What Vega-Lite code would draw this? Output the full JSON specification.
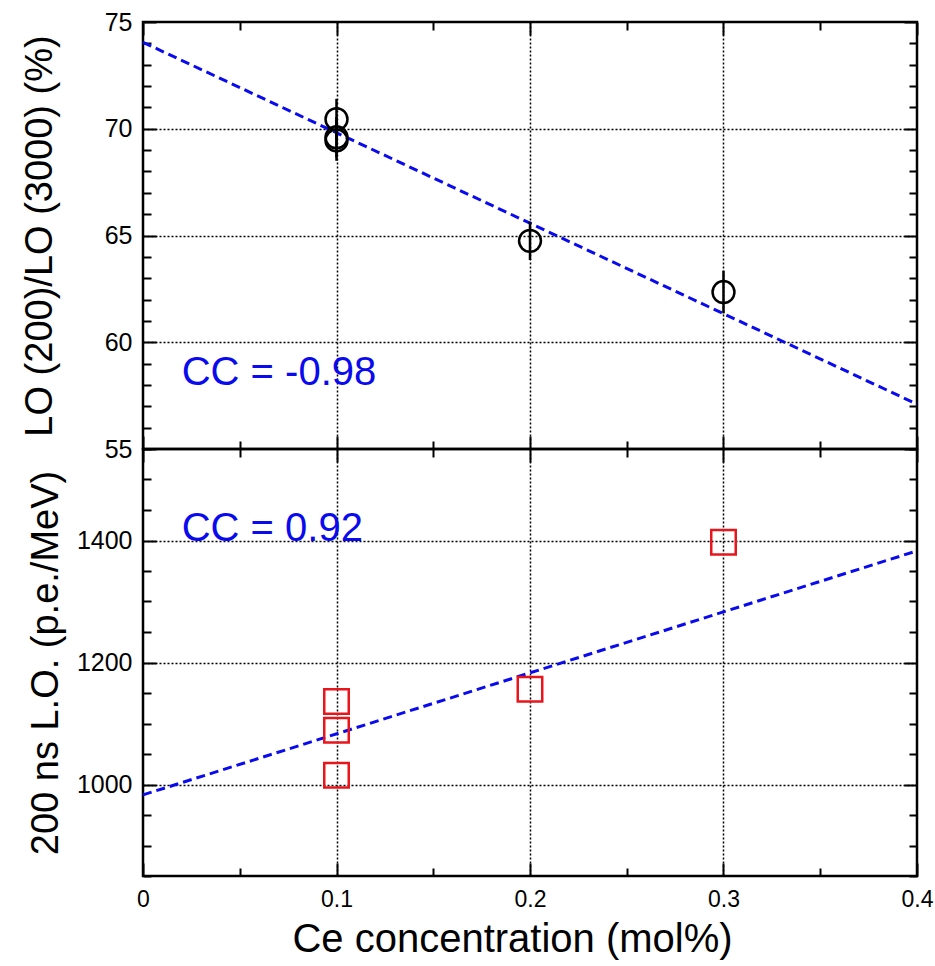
{
  "$schema": "https://vega.github.io/schema/vega-lite/v6.json",
  "padding": {"left": 19, "top": 8, "right": 0, "bottom": 0},
  "background": "white",
  "spacing": 0,
  "bounds": "flush",
  "config": {
    "font": "Liberation Sans",
    "view": {"stroke": "black", "strokeWidth": 2.5},
    "axis": {
      "domain": false,
      "labelFont": "Liberation Sans",
      "titleFont": "Liberation Sans",
      "labelColor": "black",
      "titleColor": "black",
      "tickColor": "black",
      "tickWidth": 2,
      "gridColor": "black",
      "gridDash": [2, 2],
      "gridWidth": 1.5,
      "titleFontWeight": "normal",
      "labelFlush": false,
      "labelOverlap": false
    },
    "axisX": {"labelFontSize": 23},
    "axisY": {"labelFontSize": 25}
  },
  "vconcat": [
    {
      "width": 774,
      "height": 427,
      "resolve": {"axis": {"x": "independent", "y": "independent"}},
      "layer": [
        {
          "data": {"values": [{"x": 0, "y": 74.05}, {"x": 0.4, "y": 57.1}]},
          "mark": {"type": "line", "color": "#0a0aee", "strokeWidth": 3, "strokeDash": [9, 5]},
          "encoding": {
            "x": {"field": "x", "type": "quantitative", "scale": {"domain": [0, 0.4], "nice": false, "zero": false},
              "axis": {"orient": "bottom", "values": [0, 0.05, 0.1, 0.15, 0.2, 0.25, 0.3, 0.35, 0.4], "labels": false, "title": null, "grid": false,
                "offset": -13, "tickSize": 13,
                "tickDash": {"condition": {"test": "indexof([0,0.1,0.2,0.3,0.4], datum.value) >= 0", "value": []}, "value": [0, 5, 8, 100]}}},
            "y": {"field": "y", "type": "quantitative", "scale": {"domain": [55, 75], "nice": false, "zero": false},
              "axis": {"orient": "left", "values": [55,56,57,58,59,60,61,62,63,64,65,66,67,68,69,70,71,72,73,74,75],
                "labelExpr": "datum.value % 5 === 0 ? datum.label : ''", "labelFontSize": 25, "labelPadding": 11,
                "title": "LO (200)/LO (3000) (%)", "titleFontSize": 38, "titlePadding": 45, "grid": false,
                "offset": -13, "tickSize": 13,
                "tickDash": {"condition": {"test": "datum.value % 5 === 0", "value": []}, "value": [0, 5, 8, 100]}}}
          }
        },
        {
          "data": {"values": [
            {"x": 0.1, "y": 70.45, "lo": 69.5, "hi": 71.4},
            {"x": 0.1, "y": 69.6, "lo": 68.65, "hi": 70.55},
            {"x": 0.1, "y": 69.45, "lo": 68.5, "hi": 70.4},
            {"x": 0.2, "y": 64.75, "lo": 63.85, "hi": 65.65},
            {"x": 0.3, "y": 62.35, "lo": 61.35, "hi": 63.35}
          ]},
          "mark": {"type": "rule", "color": "black", "strokeWidth": 2.5},
          "encoding": {
            "x": {"field": "x", "type": "quantitative", "scale": {"domain": [0, 0.4], "nice": false, "zero": false},
              "axis": {"orient": "top", "values": [0, 0.05, 0.1, 0.15, 0.2, 0.25, 0.3, 0.35, 0.4], "labels": false, "title": null, "grid": false,
                "offset": -13, "tickSize": 13,
                "tickDash": {"condition": {"test": "indexof([0,0.1,0.2,0.3,0.4], datum.value) >= 0", "value": []}, "value": [0, 5, 8, 100]}}},
            "y": {"field": "lo", "type": "quantitative", "scale": {"domain": [55, 75], "nice": false, "zero": false},
              "axis": {"orient": "right", "values": [55,56,57,58,59,60,61,62,63,64,65,66,67,68,69,70,71,72,73,74,75], "labels": false, "title": null, "grid": false,
                "offset": -13, "tickSize": 13,
                "tickDash": {"condition": {"test": "datum.value % 5 === 0", "value": []}, "value": [0, 5, 8, 100]}}},
            "y2": {"field": "hi"}
          }
        },
        {
          "data": {"values": [
            {"x": 0.1, "y": 70.45},
            {"x": 0.1, "y": 69.6},
            {"x": 0.1, "y": 69.45},
            {"x": 0.2, "y": 64.75},
            {"x": 0.3, "y": 62.35}
          ]},
          "mark": {"type": "point", "shape": "circle", "filled": false, "stroke": "black", "strokeWidth": 2.5, "size": 480, "opacity": 1},
          "encoding": {
            "x": {"field": "x", "type": "quantitative", "scale": {"domain": [0, 0.4], "nice": false, "zero": false},
              "axis": {"orient": "bottom", "values": [0.1, 0.2, 0.3], "labels": false, "ticks": false, "title": null, "grid": true}},
            "y": {"field": "y", "type": "quantitative", "scale": {"domain": [55, 75], "nice": false, "zero": false},
              "axis": {"orient": "left", "values": [60, 65, 70], "labels": false, "ticks": false, "title": null, "grid": true}}
          }
        },
        {
          "data": {"values": [{"x": 0.02, "y": 58, "label": "CC = -0.98"}]},
          "mark": {"type": "text", "align": "left", "baseline": "alphabetic", "fontSize": 40, "color": "#0a0aee", "font": "Liberation Sans"},
          "encoding": {
            "x": {"field": "x", "type": "quantitative", "scale": {"domain": [0, 0.4], "nice": false, "zero": false}, "axis": null},
            "y": {"field": "y", "type": "quantitative", "scale": {"domain": [55, 75], "nice": false, "zero": false}, "axis": null},
            "text": {"field": "label"}
          }
        }
      ]
    },
    {
      "width": 774,
      "height": 427,
      "resolve": {"axis": {"x": "independent", "y": "independent"}},
      "layer": [
        {
          "data": {"values": [{"x": 0, "y": 983}, {"x": 0.4, "y": 1383}]},
          "mark": {"type": "line", "color": "#0a0aee", "strokeWidth": 3, "strokeDash": [9, 5]},
          "encoding": {
            "x": {"field": "x", "type": "quantitative", "scale": {"domain": [0, 0.4], "nice": false, "zero": false},
              "axis": {"orient": "bottom", "values": [0, 0.05, 0.1, 0.15, 0.2, 0.25, 0.3, 0.35, 0.4], "format": "~g",
                "labelExpr": "indexof([0,0.1,0.2,0.3,0.4], datum.value) >= 0 ? datum.label : ''", "labelFontSize": 23, "labelPadding": 12,
                "title": "Ce concentration (mol%)", "titleFontSize": 40, "titlePadding": 8, "titleX": 369, "grid": false,
                "offset": -13, "tickSize": 13,
                "tickDash": {"condition": {"test": "indexof([0,0.1,0.2,0.3,0.4], datum.value) >= 0", "value": []}, "value": [0, 5, 8, 100]}}},
            "y": {"field": "y", "type": "quantitative", "scale": {"domain": [850, 1550], "nice": false, "zero": false},
              "axis": {"orient": "left", "values": [850,900,950,1000,1050,1100,1150,1200,1250,1300,1350,1400,1450,1500,1550], "format": "d",
                "labelExpr": "indexof([1000,1200,1400], datum.value) >= 0 ? datum.label : ''", "labelFontSize": 25, "labelPadding": 11,
                "title": "200 ns L.O. (p.e./MeV)", "titleFontSize": 38, "titlePadding": 11, "grid": false,
                "offset": -13, "tickSize": 13,
                "tickDash": {"condition": {"test": "indexof([1000,1200,1400], datum.value) >= 0", "value": []}, "value": [0, 5, 8, 100]}}}
          }
        },
        {
          "data": {"values": [
            {"x": 0.1, "y": 1136},
            {"x": 0.1, "y": 1089},
            {"x": 0.1, "y": 1015},
            {"x": 0.2, "y": 1156},
            {"x": 0.3, "y": 1397}
          ]},
          "mark": {"type": "point", "shape": "square", "filled": false, "stroke": "#e8161c", "strokeWidth": 2.5, "size": 600, "opacity": 1},
          "encoding": {
            "x": {"field": "x", "type": "quantitative", "scale": {"domain": [0, 0.4], "nice": false, "zero": false},
              "axis": {"orient": "top", "values": [0, 0.05, 0.1, 0.15, 0.2, 0.25, 0.3, 0.35, 0.4], "labels": false, "title": null, "grid": false,
                "offset": -13, "tickSize": 13,
                "tickDash": {"condition": {"test": "indexof([0,0.1,0.2,0.3,0.4], datum.value) >= 0", "value": []}, "value": [0, 5, 8, 100]}}},
            "y": {"field": "y", "type": "quantitative", "scale": {"domain": [850, 1550], "nice": false, "zero": false},
              "axis": {"orient": "right", "values": [850,900,950,1000,1050,1100,1150,1200,1250,1300,1350,1400,1450,1500,1550], "labels": false, "title": null, "grid": false,
                "offset": -13, "tickSize": 13,
                "tickDash": {"condition": {"test": "indexof([1000,1200,1400], datum.value) >= 0", "value": []}, "value": [0, 5, 8, 100]}}}
          }
        },
        {
          "data": {"values": [{"x": 0.02, "y": 1400, "label": "CC = 0.92"}]},
          "mark": {"type": "text", "align": "left", "baseline": "alphabetic", "fontSize": 40, "color": "#0a0aee", "font": "Liberation Sans"},
          "encoding": {
            "x": {"field": "x", "type": "quantitative", "scale": {"domain": [0, 0.4], "nice": false, "zero": false},
              "axis": {"orient": "bottom", "values": [0.1, 0.2, 0.3], "labels": false, "ticks": false, "title": null, "grid": true}},
            "y": {"field": "y", "type": "quantitative", "scale": {"domain": [850, 1550], "nice": false, "zero": false},
              "axis": {"orient": "left", "values": [1000, 1200, 1400], "labels": false, "ticks": false, "title": null, "grid": true}},
            "text": {"field": "label"}
          }
        }
      ]
    }
  ]
}
